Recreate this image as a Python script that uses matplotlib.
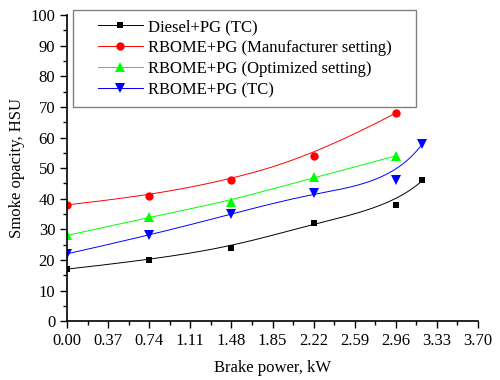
import numpy as np
import matplotlib.pyplot as plt
from matplotlib.patches import Rectangle
from matplotlib.ticker import MultipleLocator

plt.rcParams['font.family'] = ['Liberation Serif', 'DejaVu Serif']

# === DATA ===
x_diesel = [0.0, 0.74, 1.48, 2.22, 2.96, 3.20]
y_diesel = [17, 20, 24, 32, 38, 46]

x_manuf = [0.0, 0.74, 1.48, 2.22, 2.96]
y_manuf = [38, 41, 46, 54, 68]

x_optim = [0.0, 0.74, 1.48, 2.22, 2.96]
y_optim = [28, 34, 39, 47, 54]

x_tc = [0.0, 0.74, 1.48, 2.22, 2.96, 3.20]
y_tc = [22, 28, 35, 42, 46, 58]

xticks = [0.00, 0.37, 0.74, 1.11, 1.48, 1.85, 2.22, 2.59, 2.96, 3.33, 3.70]

series = [
    ("Diesel+PG (TC)", x_diesel, y_diesel, 'black', 's', 5),
    ("RBOME+PG (Manufacturer setting)", x_manuf, y_manuf, 'red', 'o', 6),
    ("RBOME+PG (Optimized setting)", x_optim, y_optim, '#00ff00', '^', 6.5),
    ("RBOME+PG (TC)", x_tc, y_tc, 'blue', 'v', 6.5),
]


def bspline(cx, cy, k=3, n=300):
    # clamped uniform B-spline using the data points as control points
    cx, cy = np.asarray(cx, float), np.asarray(cy, float)
    m = len(cx)
    t = np.concatenate([np.zeros(k), np.linspace(0, 1, m - k + 1), np.ones(k)])
    u = np.linspace(0, 1 - 1e-9, n)

    def basis(i, d):
        if d == 0:
            return ((t[i] <= u) & (u < t[i + 1])).astype(float)
        out = np.zeros_like(u)
        if t[i + d] > t[i]:
            out += (u - t[i]) / (t[i + d] - t[i]) * basis(i, d - 1)
        if t[i + d + 1] > t[i + 1]:
            out += (t[i + d + 1] - u) / (t[i + d + 1] - t[i + 1]) * basis(i + 1, d - 1)
        return out

    B = np.array([basis(i, k) for i in range(m)])
    return B.T @ cx, B.T @ cy


# === PLOT ===
fig = plt.figure(figsize=(5, 3.8), dpi=100)
ax = fig.add_axes([0.134, 0.155, 0.822, 0.805])

for label, xs, ys, color, marker, ms in series:
    bx, by = bspline(xs, ys)
    ax.plot(bx, by, color=color, lw=0.7)
    ax.plot(xs, ys, linestyle='none', marker=marker, color=color, ms=ms, mew=0)
    ax.plot([], [], color=color, lw=0.7, marker=marker, ms=ms, mew=0, label=label)

ax.set_xlim(0, 3.70)
ax.set_ylim(0, 100)
ax.set_xticks(xticks)
ax.set_xticklabels([f"{t:.2f}" for t in xticks])
ax.xaxis.set_minor_locator(MultipleLocator(0.185))
ax.yaxis.set_major_locator(MultipleLocator(10))
ax.yaxis.set_minor_locator(MultipleLocator(5))
ax.tick_params(which='major', direction='out', length=5, labelsize=12, width=1)
ax.tick_params(which='minor', direction='out', length=3, width=1)
ax.spines['top'].set_visible(False)
ax.spines['right'].set_visible(False)
ax.spines['left'].set_linewidth(1.2)
ax.spines['bottom'].set_linewidth(1.2)

ax.set_xlabel('Brake power, kW', fontsize=12, labelpad=8)
ax.set_ylabel('Smoke opacity, HSU', fontsize=12, labelpad=4)

leg = ax.legend(loc='upper left', bbox_to_anchor=(0.042, 1.031), fontsize=12,
                frameon=False, handlelength=2.7, labelspacing=0.3,
                borderpad=0.3, handletextpad=0.3)
leg.set_zorder(5)

# wider box around the legend (more padding left/right than top/bottom)
fig.canvas.draw()
bb = leg.get_window_extent().transformed(ax.transAxes.inverted())
axw, axh = ax.get_window_extent().width, ax.get_window_extent().height
padx, pady = 19.5 / axw, 4 / axh
box = Rectangle((bb.x0 - padx, bb.y0 - pady), bb.width + 2 * padx, bb.height + 2 * pady,
                transform=ax.transAxes, clip_on=False, facecolor='white',
                edgecolor='gray', lw=1.0, zorder=4.9)
ax.add_patch(box)

plt.savefig('out.png', dpi=100)
